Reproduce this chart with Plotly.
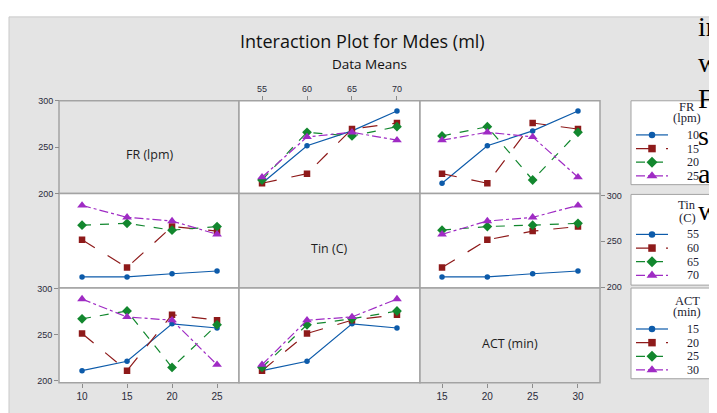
import plotly.graph_objects as go
import pandas as pd

# page is 717x413; the html body adds an 8px margin, so the figure is drawn at (8, 8)
PAGE_W, PAGE_H = 717, 413
OFF = 8
W, H = PAGE_W - OFF, PAGE_H - OFF

# ---- data: 16 runs ----
FR   = [10, 10, 10, 10, 15, 15, 15, 15, 20, 20, 20, 20, 25, 25, 25, 25]
TIN  = [55, 60, 65, 70, 55, 60, 65, 70, 55, 60, 65, 70, 55, 60, 65, 70]
ACT  = [15, 20, 25, 30, 20, 15, 30, 25, 25, 30, 15, 20, 30, 25, 20, 15]
MDES = [211, 251.5, 267.5, 289, 211, 221.3, 269.5, 276,
        214.5, 266, 262, 272, 217.5, 261, 266, 257.5]

FACTORS = ["FR", "Tin", "ACT"]
FACTOR_LABELS = ["FR (lpm)", "Tin (C)", "ACT (min)"]
LEGEND_TITLES = [["FR", "(lpm)"], ["Tin", "(C)"], ["ACT", "(min)"]]
LEVELS = {"FR": [10, 15, 20, 25], "Tin": [55, 60, 65, 70], "ACT": [15, 20, 25, 30]}
Y_TICKS = [200, 250, 300]
TITLE = "Interaction Plot for Mdes (ml)"
SUBTITLE = "Data Means"
OVERLAY_WORDS = ["in", "w", "Fr", "si", "ac", "w"]

df = pd.DataFrame({"FR": FR, "Tin": TIN, "ACT": ACT, "Mdes": MDES})

# ---- styles ----
COLORS = ["#0D5BAA", "#8E1A1A", "#12872E", "#9F2BC4"]
SYMBOLS = ["circle", "square", "diamond", "triangle-up"]
DASHES = ["solid", "longdash", "dash", "dashdot"]
MSIZES = [5.5, 6.5, 7.5, 8.5]
GRAY = "#E4E4E4"
BORDER = "#A3A3A3"
SANS = "Open Sans, Liberation Sans, Arial"
SERIF = "Liberation Serif, Times New Roman"

col_px = [(59, 239), (239, 420), (420, 600)]
row_px = [(98, 193), (193, 290), (290, 387)]
x_ranges = [[7.44, 27.44], [52.44, 72.56], [12.57, 32.43]]
y_ranges = [[200, 300], [198.9, 302.1], [198, 301]]
legend_box_y = [(98, 184), (194, 287), (290, 383)]
legend_title_y = [(104, 116), (205, 218), (303, 315)]
legend_item_y = [(133, 147, 161, 175), (235, 249, 263, 277), (332, 346, 360, 374)]


def px_x(p):
    return (p - OFF) / W


def px_y(p):
    return 1 - (p - OFF) / H


fig = go.Figure()
layout_axes = {}
shapes = []

# grey background of the Minitab window
shapes.append(dict(type="rect", xref="paper", yref="paper", x0=px_x(9), x1=1.02,
                   y0=-0.02, y1=px_y(12), fillcolor=GRAY,
                   line=dict(color="#C9C9C9", width=1), layer="below"))

tickfont = dict(family="Liberation Sans, Arial", size=9, color="#2B2B3B")
tickfont_b = dict(family="Liberation Sans, Arial", size=10, color="#2B2B3B")
k = 0
for i, fi in enumerate(FACTORS):
    for j, fj in enumerate(FACTORS):
        x0, x1 = col_px[j]
        y0, y1 = row_px[i]
        shapes.append(dict(type="rect", xref="paper", yref="paper",
                           x0=px_x(x0), x1=px_x(x1), y0=px_y(y1), y1=px_y(y0),
                           fillcolor=GRAY if i == j else "white",
                           line=dict(color=BORDER, width=1.5), layer="below"))
        if i == j:
            continue
        k += 1
        xa = "x" if k == 1 else f"x{k}"
        ya = "y" if k == 1 else f"y{k}"
        xkey = "xaxis" if k == 1 else f"xaxis{k}"
        ykey = "yaxis" if k == 1 else f"yaxis{k}"
        xax = dict(domain=[px_x(x0), px_x(x1)], range=x_ranges[j], anchor=ya,
                   showgrid=False, zeroline=False, showline=False,
                   tickvals=LEVELS[fj], ticks="", showticklabels=False,
                   tickfont=tickfont, ticklen=4, tickcolor="#8C8C8C")
        yax = dict(domain=[px_y(y1), px_y(y0)], range=y_ranges[i], anchor=xa,
                   showgrid=False, zeroline=False, showline=False,
                   tickvals=Y_TICKS, ticks="", showticklabels=False,
                   tickfont=tickfont, ticklen=4, tickcolor="#8C8C8C")
        if (i, j) == (0, 1):
            xax.update(side="top", ticks="outside", showticklabels=True)
            yax.update(anchor="free", position=px_x(59), side="left",
                       ticks="outside", showticklabels=True)
        if (i, j) == (1, 2):
            yax.update(anchor="free", position=px_x(600), side="right",
                       ticks="outside", showticklabels=True)
            xax.update(anchor="free", position=px_y(387), side="bottom",
                       ticks="outside", showticklabels=True, tickfont=tickfont_b)
        if (i, j) == (2, 0):
            xax.update(ticks="outside", showticklabels=True, tickfont=tickfont_b)
            yax.update(ticks="outside", showticklabels=True)
        layout_axes[xkey] = xax
        layout_axes[ykey] = yax

        for li, lev in enumerate(LEVELS[fi]):
            sub = df[df[fi] == lev].groupby(fj)["Mdes"].mean().reindex(LEVELS[fj])
            fig.add_trace(go.Scatter(
                x=list(sub.index), y=list(sub.values), xaxis=xa, yaxis=ya,
                mode="lines+markers", name=str(lev), showlegend=False,
                line=dict(color=COLORS[li], width=1.2, dash=DASHES[li]),
                marker=dict(symbol=SYMBOLS[li], size=MSIZES[li], color=COLORS[li]),
                hoverinfo="skip"))

# ---- legends (one per row factor), drawn in a page-pixel overlay axis ----
k += 1
LX, LY = f"x{k}", f"y{k}"
layout_axes[f"xaxis{k}"] = dict(domain=[0, 1], range=[OFF, PAGE_W], visible=False,
                                anchor=LY, fixedrange=True)
layout_axes[f"yaxis{k}"] = dict(domain=[0, 1], range=[PAGE_H, OFF], visible=False,
                                anchor=LX, fixedrange=True)
annotations = []
for i, fi in enumerate(FACTORS):
    yb0, yb1 = legend_box_y[i]
    shapes.append(dict(type="rect", xref="paper", yref="paper",
                       x0=px_x(631), x1=px_x(710), y0=px_y(yb1), y1=px_y(yb0),
                       fillcolor="white", line=dict(color=BORDER, width=1), layer="below"))
    for t, line_txt in enumerate(LEGEND_TITLES[i]):
        annotations.append(dict(text=line_txt, xref="paper", yref="paper",
                                x=px_x(687), y=px_y(legend_title_y[i][t]),
                                showarrow=False, xanchor="center", yanchor="middle",
                                font=dict(family=SERIF, size=12.5, color="#1C1C30")))
    for li, lev in enumerate(LEVELS[fi]):
        yy = legend_item_y[i][li]
        fig.add_trace(go.Scatter(x=[636, 668], y=[yy, yy], xaxis=LX, yaxis=LY,
                                 mode="lines", showlegend=False, hoverinfo="skip",
                                 line=dict(color=COLORS[li], width=1.2, dash=DASHES[li])))
        fig.add_trace(go.Scatter(x=[652], y=[yy], xaxis=LX, yaxis=LY,
                                 mode="markers", showlegend=False, hoverinfo="skip",
                                 marker=dict(symbol=SYMBOLS[li], size=MSIZES[li] + 1,
                                             color=COLORS[li])))
        annotations.append(dict(text=str(lev), xref="paper", yref="paper",
                                x=px_x(701), y=px_y(yy), showarrow=False,
                                xanchor="right", yanchor="middle",
                                font=dict(family=SERIF, size=12, color="#1C1C30")))

# diagonal factor labels
for d, lab in enumerate(FACTOR_LABELS):
    cx = (col_px[d][0] + col_px[d][1]) / 2
    cy = (row_px[d][0] + row_px[d][1]) / 2 + 8
    annotations.append(dict(text=lab, xref="paper", yref="paper", x=px_x(cx), y=px_y(cy),
                            showarrow=False, xanchor="center", yanchor="middle",
                            font=dict(family=SANS, size=12.5, color="#1E1E1E")))
# title
annotations.append(dict(text=TITLE, xref="paper", yref="paper", x=px_x(362), y=px_y(37),
                        showarrow=False, xanchor="center", yanchor="middle",
                        font=dict(family=SANS, size=18, color="#111111")))
annotations.append(dict(text=SUBTITLE, xref="paper", yref="paper", x=px_x(369), y=px_y(60),
                        showarrow=False, xanchor="center", yanchor="middle",
                        font=dict(family=SANS, size=13.5, color="#111111")))
# document text overlapping the screenshot on the right edge
WORD_Y = [22, 59, 96, 134, 173, 210]
for n, word in enumerate(OVERLAY_WORDS):
    annotations.append(dict(text=word, xref="paper", yref="paper", x=px_x(697),
                            y=px_y(WORD_Y[n]), showarrow=False, borderpad=0,
                            xanchor="left", yanchor="middle",
                            font=dict(family=SERIF, size=28, color="#000000")))

fig.update_layout(width=W, height=H, margin=dict(l=0, r=0, t=0, b=0),
                  paper_bgcolor="white", plot_bgcolor="rgba(0,0,0,0)",
                  showlegend=False,
                  shapes=shapes, annotations=annotations, **layout_axes)

fig.write_html("out.html")
